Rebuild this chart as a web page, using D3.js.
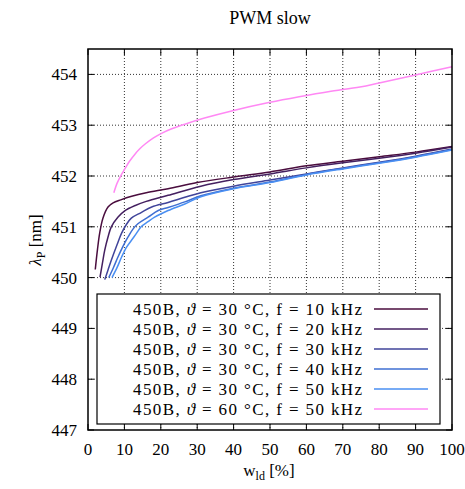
<!DOCTYPE html>
<html>
<head>
<meta charset="utf-8">
<script src="https://cdn.jsdelivr.net/npm/d3@7"></script>
<style>
  body { margin: 0; background: #fff; }
  svg { display: block; font-family: "Liberation Serif", "DejaVu Serif", serif; }
</style>
</head>
<body>
<svg id="chart" width="465" height="489"></svg>
<script>
// ---- data ----
const titleText = "PWM slow";
const xTicks = [0, 10, 20, 30, 40, 50, 60, 70, 80, 90, 100];
const yTicks = [447, 448, 449, 450, 451, 452, 453, 454];

const seriesNames = [
  {temp: "30", freq: "10"},
  {temp: "30", freq: "20"},
  {temp: "30", freq: "30"},
  {temp: "30", freq: "40"},
  {temp: "30", freq: "50"},
  {temp: "60", freq: "50"}
];
const seriesColors = ["#4a0d3e", "#442060", "#40449a", "#3f6fd2", "#4a8ff2", "#ff88f4"];

const w10 = [2.0, 2.6, 3.2, 4.1, 5.5, 6.9, 9, 12, 16, 22, 30, 40, 50, 60, 70, 80, 90, 100];
const l10 = [450.16, 450.55, 450.87, 451.17, 451.39, 451.47, 451.53, 451.60, 451.67, 451.75, 451.87, 451.98, 452.08, 452.20, 452.29, 452.38, 452.47, 452.58];

const w20 = [3.3, 4.0, 4.6, 5.5, 6.4, 8.2, 10, 13, 16, 22, 31, 40, 50, 60, 70, 80, 90, 100];
const l20 = [450.01, 450.30, 450.54, 450.80, 451.00, 451.19, 451.31, 451.42, 451.50, 451.62, 451.80, 451.93, 452.04, 452.16, 452.26, 452.35, 452.45, 452.57];

const w30 = [4.6, 5.5, 6.4, 8, 9.2, 10.5, 11.9, 14.6, 17.5, 22, 26.6, 31, 40, 50, 60, 70, 80, 90, 100];
const l30 = [449.96, 450.15, 450.34, 450.65, 450.87, 451.04, 451.17, 451.28, 451.39, 451.48, 451.58, 451.67, 451.80, 451.92, 452.04, 452.16, 452.27, 452.39, 452.53];

const w40 = [5.7, 7, 8.2, 9.5, 11, 12.3, 13.7, 16.5, 19.3, 22, 26.6, 31, 40, 50, 60, 70, 80, 90, 100];
const l40 = [450.00, 450.20, 450.40, 450.60, 450.80, 450.95, 451.06, 451.19, 451.32, 451.38, 451.49, 451.61, 451.76, 451.88, 452.03, 452.15, 452.26, 452.38, 452.52];

const w50 = [6.6, 8, 9.2, 10.6, 11.9, 13.3, 14.6, 16.5, 18.3, 22, 26.6, 31, 40, 50, 60, 70, 80, 90, 100];
const l50 = [450.00, 450.20, 450.40, 450.60, 450.73, 450.87, 451.00, 451.10, 451.19, 451.32, 451.45, 451.59, 451.75, 451.87, 452.02, 452.14, 452.25, 452.37, 452.51];

const w60 = [7.1, 8, 9.2, 10.2, 11.4, 12.9, 14.3, 15.7, 18, 20.2, 23, 26.6, 32, 40, 50, 58, 66, 74.7, 80, 90, 100];
const l60 = [451.67, 451.86, 452.03, 452.15, 452.29, 452.43, 452.54, 452.63, 452.75, 452.84, 452.93, 453.02, 453.14, 453.29, 453.45, 453.56, 453.66, 453.75, 453.83, 453.99, 454.15];

const seriesW = [w10, w20, w30, w40, w50, w60];
const seriesL = [l10, l20, l30, l40, l50, l60];

// ---- layout ----
const svg = d3.select("#chart");
const L = 88, R = 452, T = 49, B = 430;
const x = d3.scaleLinear().domain([0, 100]).range([L, R]);
const y = d3.scaleLinear().domain([447, 454.5]).range([B, T]);

// grid
const grid = svg.append("g").attr("stroke", "#333").attr("stroke-width", 1)
  .attr("stroke-dasharray", "1,2");
xTicks.filter(t => t > 0 && t < 100).forEach(t => {
  grid.append("line").attr("x1", x(t)).attr("x2", x(t)).attr("y1", T).attr("y2", B);
});
yTicks.filter(t => t > 447).forEach(t => {
  grid.append("line").attr("x1", L).attr("x2", R).attr("y1", y(t)).attr("y2", y(t));
});

// curves
const line = d3.line().x(d => x(d[0])).y(d => y(d[1])).curve(d3.curveCatmullRom.alpha(0.5));
seriesW.forEach((ws, i) => {
  const pts = ws.map((w, j) => [w, seriesL[i][j]]);
  svg.append("path").datum(pts).attr("d", line)
    .attr("fill", "none").attr("stroke", seriesColors[i]).attr("stroke-width", 1.5);
});

// legend
const lg = svg.append("g");
lg.append("rect").attr("x", 97).attr("y", 294).attr("width", 343).attr("height", 130)
  .attr("fill", "#fff").attr("stroke", "#000").attr("stroke-width", 1.2);
seriesNames.forEach((s, i) => {
  const cy = 309 + i * 20;
  const t = lg.append("text").attr("x", 362).attr("y", cy + 6)
    .attr("text-anchor", "end").attr("font-size", 17).attr("fill", "#000");
  t.append("tspan").text("450B, ");
  t.append("tspan").attr("font-style", "italic").text("ϑ");
  t.append("tspan").text(` = ${s.temp} °C, f = ${s.freq} kHz`);
  t.attr("textLength", 229).attr("lengthAdjust", "spacing");
  lg.append("line").attr("x1", 374).attr("x2", 428).attr("y1", cy).attr("y2", cy)
    .attr("stroke", seriesColors[i]).attr("stroke-width", 1.5);
});

// ticks (inward, mirrored)
const tk = svg.append("g").attr("stroke", "#000").attr("stroke-width", 1);
xTicks.forEach(t => {
  tk.append("line").attr("x1", x(t)).attr("x2", x(t)).attr("y1", B).attr("y2", B - 6);
  tk.append("line").attr("x1", x(t)).attr("x2", x(t)).attr("y1", T).attr("y2", T + 6);
});
yTicks.forEach(t => {
  tk.append("line").attr("x1", L).attr("x2", L + 6).attr("y1", y(t)).attr("y2", y(t));
  tk.append("line").attr("x1", R).attr("x2", R - 6).attr("y1", y(t)).attr("y2", y(t));
});

// frame
svg.append("rect").attr("x", L).attr("y", T).attr("width", R - L).attr("height", B - T)
  .attr("fill", "none").attr("stroke", "#000").attr("stroke-width", 1.5);

// tick labels
svg.append("g").selectAll("text").data(xTicks).join("text")
  .attr("x", d => x(d)).attr("y", 455).attr("text-anchor", "middle")
  .attr("font-size", 17).text(d => d);
svg.append("g").selectAll("text").data(yTicks).join("text")
  .attr("x", 77).attr("y", d => y(d) + 6).attr("text-anchor", "end")
  .attr("font-size", 17).text(d => d);

// title
svg.append("text").attr("x", 270).attr("y", 24).attr("text-anchor", "middle")
  .attr("font-size", 18).text(titleText);

// x label
const xl = svg.append("text").attr("x", 269).attr("y", 476).attr("text-anchor", "middle")
  .attr("font-size", 17);
xl.append("tspan").text("w");
xl.append("tspan").attr("font-size", 12).attr("dy", 4).text("ld");
xl.append("tspan").attr("dy", -4).text(" [%]");

// y label
const yl = svg.append("text").attr("transform", "translate(41,240) rotate(-90)")
  .attr("text-anchor", "middle").attr("font-size", 17);
yl.append("tspan").attr("font-style", "italic").text("λ");
yl.append("tspan").attr("font-size", 12).attr("dy", 4).text("P");
yl.append("tspan").attr("dy", -4).text(" [nm]");
</script>
</body>
</html>
